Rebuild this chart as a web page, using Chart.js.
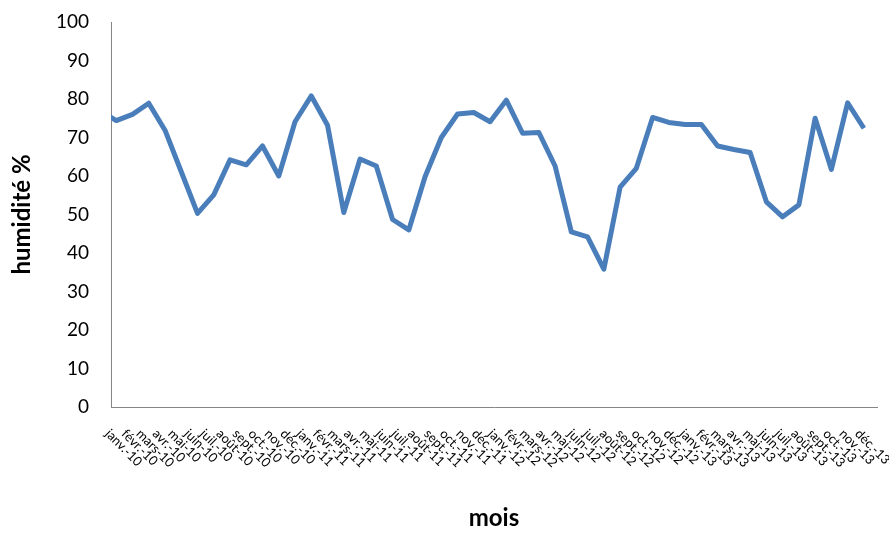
<!DOCTYPE html>
<html><head><meta charset="utf-8">
<script src="https://cdn.jsdelivr.net/npm/chart.js@4/dist/chart.umd.min.js"></script>
<style>html,body{margin:0;padding:0;background:#fff}</style>
</head><body>
<canvas id="c" width="889" height="533"></canvas>
<script>
// Month labels of the horizontal axis
const monthLabels = [
  'janv.-10','févr.-10','mars-10','avr.-10','mai-10','juin-10','juil.-10','août-10','sept.-10','oct.-10','nov.-10','déc.-10',
  'janv.-11','févr.-11','mars-11','avr.-11','mai-11','juin-11','juil.-11','août-11','sept.-11','oct.-11','nov.-11','déc.-11',
  'janv.-12','févr.-12','mars-12','avr.-12','mai-12','juin-12','juil.-12','août-12','sept.-12','oct.-12','nov.-12','déc.-12',
  'janv.-13','févr.-13','mars-13','avr.-13','mai-13','juin-13','juil.-13','août-13','sept.-13','oct.-13','nov.-13','déc.-13'
];
// Humidity readings (%), one every 31 days; the first one falls just before the axis start
const humidity = [
  77.0, 74.4, 76.0, 78.9, 71.9, 61.1, 50.3, 55.1, 64.2, 62.9, 67.8,
  60.0, 74.1, 80.8, 73.2, 50.5, 64.4, 62.6, 48.7, 46.0, 59.8,
  70.0, 76.1, 76.5, 74.1, 79.7, 71.1, 71.3, 62.6, 45.5, 44.2,
  35.8, 57.1, 62.0, 75.2, 73.9, 73.4, 73.4, 67.8, 66.9, 66.1,
  53.3, 49.4, 52.5, 75.0, 61.7, 79.0, 72.4
];
const firstSampleDay = -21;   // days relative to 1 Jan 2010
const sampleStepDays = 31;
const yTicks = [0,10,20,30,40,50,60,70,80,90,100];

const DAY = 86400000;
const t0 = Date.UTC(2010,0,1);
const monthStartDays = monthLabels.map((_, i) => (Date.UTC(2010, i, 1) - t0) / DAY);
const axisEndDay = (Date.UTC(2014,0,1) - t0) / DAY;
const points = humidity.map((v, k) => ({x: firstSampleDay + k * sampleStepDays, y: v}));

const FONT = 'Lato, "Open Sans", "DejaVu Sans", sans-serif';

const monthLabelPlugin = {
  id: 'monthLabels',
  afterDraw(chart) {
    const xs = chart.scales.x;
    const ctx = chart.ctx;
    const bottom = chart.chartArea.bottom;
    ctx.save();
    ctx.font = '13px ' + FONT;
    ctx.fillStyle = '#000';
    ctx.textAlign = 'left';
    ctx.textBaseline = 'top';
    monthLabels.forEach((lab, i) => {
      const px = xs.getPixelForValue(monthStartDays[i]);
      ctx.save();
      ctx.translate(px + 1, bottom + 20);
      ctx.rotate(Math.PI / 4);
      ctx.fillText(lab, 0, 0);
      ctx.restore();
    });
    ctx.restore();
  }
};

new Chart(document.getElementById('c'), {
  type: 'line',
  data: {
    datasets: [{
      data: points,
      borderColor: '#4A7EBB',
      borderWidth: 5,
      pointRadius: 0,
      tension: 0,
      fill: false,
      clip: 0,
      borderJoinStyle: 'round'
    }]
  },
  options: {
    responsive: false,
    animation: false,
    devicePixelRatio: 1,
    layout: { autoPadding: false, padding: { top: 22, right: 12, left: 0, bottom: 0 } },
    plugins: { legend: { display: false }, tooltip: { enabled: false } },
    scales: {
      x: {
        type: 'linear',
        min: 0,
        max: axisEndDay,
        grid: { display: false },
        border: { display: true, color: '#868686', width: 1 },
        ticks: { display: false },
        title: { display: true, text: 'mois', color: '#000',
                 font: { family: FONT, size: 24, weight: 'bold' },
                 padding: { top: 0, bottom: 0 } },
        afterFit(s) { s.height = 126; }
      },
      y: {
        min: 0, max: 100,
        afterBuildTicks(s) { s.ticks = yTicks.map(v => ({value: v})); },
        grid: { display: false, drawTicks: false },
        border: { display: true, color: '#868686', width: 1 },
        ticks: { color: '#000', padding: 22, font: { family: FONT, size: 19 } },
        title: { display: true, text: 'humidité %', color: '#000',
                 font: { family: FONT, size: 24, weight: 'bold' },
                 padding: { top: 8, bottom: 0 } },
        afterFit(s) { s.width = 111; s.paddingTop = 0; s.paddingBottom = 0; }
      }
    }
  },
  plugins: [monthLabelPlugin]
});
</script>
</body></html>
